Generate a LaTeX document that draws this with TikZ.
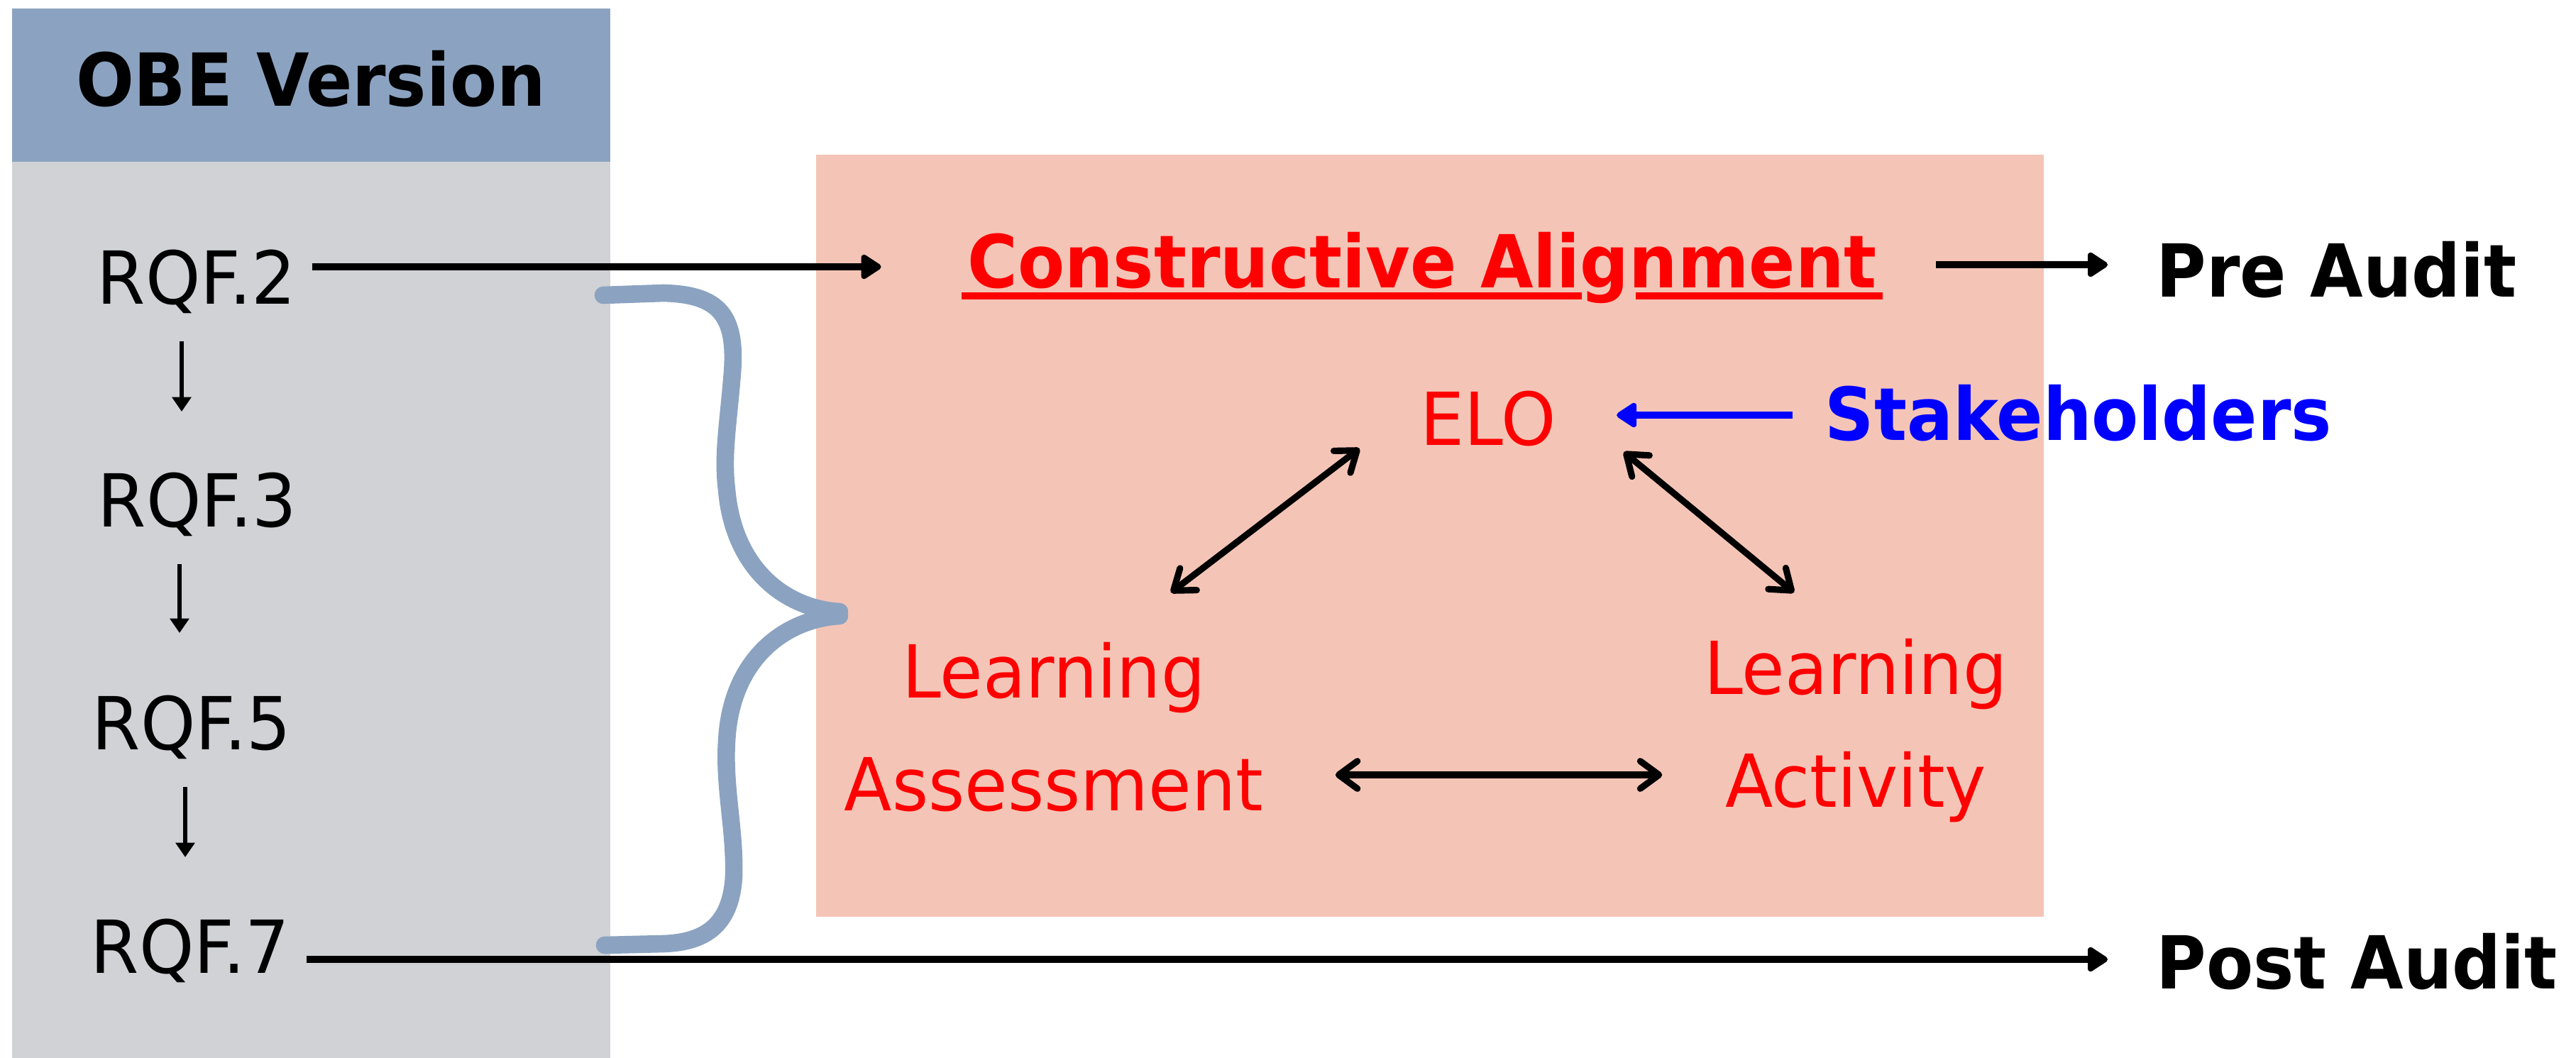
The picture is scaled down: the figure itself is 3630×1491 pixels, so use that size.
\documentclass[tikz,border=0pt]{standalone}
\usepackage{fontspec}
\setmainfont{DejaVu Sans}
\usetikzlibrary{arrows.meta,calc}
\definecolor{hdr}{HTML}{8BA3C1}
\definecolor{panel}{HTML}{D0D2D5}
\definecolor{salmon}{HTML}{F4C5B7}
\definecolor{bracecol}{HTML}{8BA3C1}
\newcommand\sqb[1]{\scalebox{0.935}[1]{#1}}
\newcommand\sqr[1]{\scalebox{0.955}[1]{#1}}
\begin{document}
\begin{tikzpicture}[x=0.01cm,y=-0.01cm,
  lbl/.style={inner sep=0pt,anchor=base,font=\fontsize{29.3pt}{35pt}\selectfont},
  blbl/.style={inner sep=0pt,anchor=base,font=\fontsize{29.3pt}{35pt}\selectfont\bfseries},
  conn/.style={line width=2.85pt,-{Triangle[length=9pt,width=11pt,round]}},
  dbl/.style={line width=2.6pt,line cap=round,{Straight Barb[length=7.5pt,width=11pt,round]}-{Straight Barb[length=7.5pt,width=11pt,round]}},
  smallarr/.style={line width=1.7pt,-{Triangle[length=5.8pt,width=7.5pt]}},
  bracestyle/.style={draw=bracecol,line width=7pt,line cap=round,line join=round}]
\useasboundingbox (0,0) rectangle (3630,1491);
\fill[white] (0,0) rectangle (3630,1491);
% panels
\fill[panel] (17,228) rectangle (860,1491);
\fill[hdr] (17,12) rectangle (860,228);
\fill[salmon] (1150,218) rectangle (2880,1292);
% texts
\node[blbl] (obe) at (438,150) {\sqb{OBE Version}};
\node[lbl] (r2) at (277,428) {\sqr{RQF.2}};
\node[lbl] (r3) at (278,742) {\sqr{RQF.3}};
\node[lbl] (r5) at (270,1056) {\sqr{RQF.5}};
\node[lbl] (r7) at (268,1371) {\sqr{RQF.7}};
\node[blbl,red] (ca) at (2004,405) {\sqb{Constructive Alignment}};
\node[lbl,red] (elo) at (2097,627) {\sqr{ELO}};
\node[blbl,blue,anchor=base west] (sh) at (2571,620) {\sqb{Stakeholders}};
\node[lbl,red] (la1) at (1485,983) {\sqr{Learning}};
\node[lbl,red] (la2) at (1485,1142) {\sqr{Assessment}};
\node[lbl,red] (lb1) at (2615,978) {\sqr{Learning}};
\node[lbl,red] (lb2) at (2615,1137) {\sqr{Activity}};
\node[blbl,anchor=base west] (pre) at (3038,418) {\sqb{Pre Audit}};
\node[blbl,anchor=base west] (post) at (3038,1393) {\sqb{Post Audit}};
% underline
\draw[red,line width=2.6pt] ($(ca.base west)+(-8,12)$) -- ($(ca.base west)+(866,12)$);
\draw[red,line width=2.6pt] ($(ca.base west)+(942,12)$) -- ($(ca.base east)+(8,12)$);
% brace
\draw[bracestyle] (850,416) -- (935,413) .. controls (1014,415) and (1038,445) .. (1032,525)
  .. controls (1026,600) and (1018,640) .. (1024,690)
  .. controls (1034,805) and (1110,858) .. (1183,862);
\draw[bracestyle] (1183,868) .. controls (1110,872) and (1030,925) .. (1024,1045)
  .. controls (1020,1110) and (1036,1170) .. (1034,1235)
  .. controls (1030,1307) and (990,1328) .. (935,1330) -- (852,1332);
% connectors
\draw[conn] ($(r2.base east)+(22,-52)$) -- ($(ca.base west)+(-121,-29)$);
\draw[conn] ($(ca.base east)+(83,-32)$) -- ($(pre.base west)+(-68,-45)$);
\draw[conn] ($(r7.base east)+(23,-19)$) -- ($(post.base west)+(-68,-41)$);
\draw[smallarr] ($(r2.base)+(-21,53)$) -- ($(r3.base)+(-22,-162)$);
\draw[smallarr] ($(r3.base)+(-25,53)$) -- ($(r5.base)+(-17,-164)$);
\draw[smallarr] ($(r5.base)+(-9,53)$) -- ($(r7.base)+(-7,-163)$);
\draw[conn,blue,line width=2.6pt] ($(sh.base west)+(-45,-35)$) -- ($(elo.base east)+(85,-42)$);
\draw[dbl] ($(la1.base)+(165,-148)$) -- ($(elo.base west)+(-85,5)$);
\draw[dbl] ($(elo.base east)+(95,10)$) -- ($(lb1.base)+(-87,-143)$);
\draw[dbl] ($(la2.base east)+(101,-50)$) -- ($(lb2.base west)+(-88,-45)$);
\end{tikzpicture}
\end{document}
